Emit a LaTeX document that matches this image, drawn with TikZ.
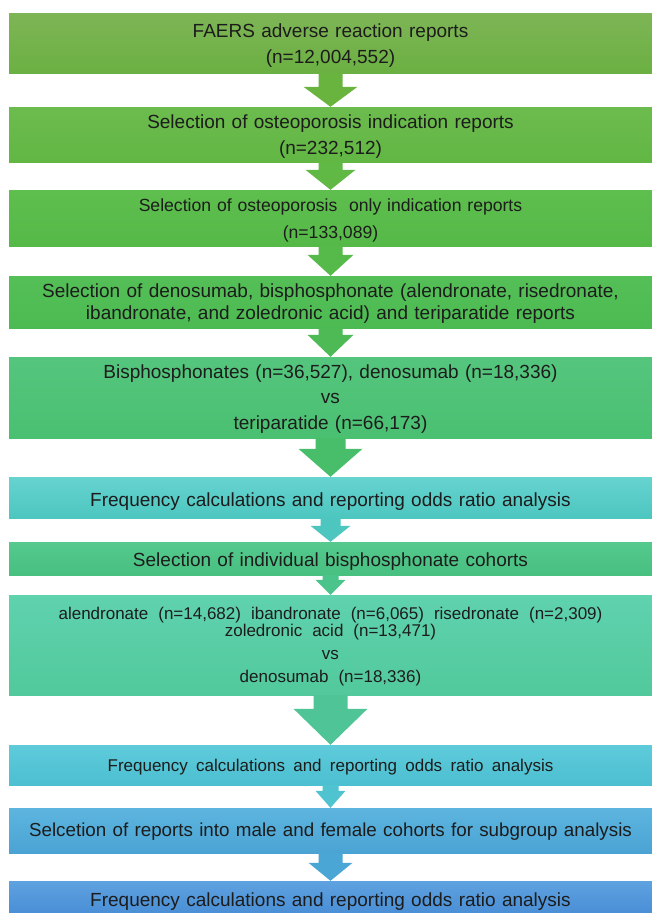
\documentclass[tikz,border=0pt]{standalone}
\usepackage{fontspec}
\setmainfont{Liberation Sans}
\usetikzlibrary{calc}
\definecolor{txt}{HTML}{1C1C1C}
\definecolor{b1t}{HTML}{7EB556}\definecolor{b1b}{HTML}{6BB042}
\definecolor{b2t}{HTML}{6CBB4E}\definecolor{b2b}{HTML}{62B743}
\definecolor{b3t}{HTML}{5EBE4E}\definecolor{b3b}{HTML}{55B948}
\definecolor{b4t}{HTML}{55BF57}\definecolor{b4b}{HTML}{4CBA52}
\definecolor{b5t}{HTML}{55C57E}\definecolor{b5b}{HTML}{4AC071}
\definecolor{b6t}{HTML}{66D3CF}\definecolor{b6b}{HTML}{4DC6C0}
\definecolor{b7t}{HTML}{55C98E}\definecolor{b7b}{HTML}{47C080}
\definecolor{b8t}{HTML}{5FD2AE}\definecolor{b8b}{HTML}{52C99C}
\definecolor{b9t}{HTML}{5ECBDA}\definecolor{b9b}{HTML}{4CBFD1}
\definecolor{b10t}{HTML}{5DB5DF}\definecolor{b10b}{HTML}{4AA3D3}
\definecolor{b11t}{HTML}{5EA2E0}\definecolor{b11b}{HTML}{4A8ED6}
\definecolor{a1c}{HTML}{69B43F}
\definecolor{a2c}{HTML}{60B944}
\definecolor{a3c}{HTML}{55BA49}
\definecolor{a4c}{HTML}{4DBA56}
\definecolor{a5c}{HTML}{48BD6A}
\definecolor{a6c}{HTML}{4EC6C0}
\definecolor{a7c}{HTML}{4BC48C}
\definecolor{a8c}{HTML}{4FC597}
\definecolor{a9c}{HTML}{4FC3CF}
\definecolor{a10c}{HTML}{4AA7D5}
% block arrow: from, to, shaft half width, head half width, head length, colour
\newcommand{\blockarrow}[6]{%
  \fill[#6] let \p1=(#1.south), \p2=(#2.north) in
    ($(\x1-#3,\y1)$) -- ($(\x1+#3,\y1)$) -- ($(\x1+#3,\y2+#5)$) -- ($(\x1+#4,\y2+#5)$)
    -- (\x1,\y2) -- ($(\x1-#4,\y2+#5)$) -- ($(\x1-#3,\y2+#5)$) -- cycle;}
\newcommand{\widesp}[1]{\spaceskip=#1\relax}
\newcommand{\tstrut}[1]{\rule{0pt}{#1}}
\begin{document}
\begin{tikzpicture}[x=1pt,y=-1pt,
  box/.style={rectangle, inner sep=0pt, minimum width=643pt, text width=643pt,
    align=center, text=txt, font=\fontsize{19}{27}\selectfont}]
\useasboundingbox (0,0) rectangle (652,913);
\fill[white] (0,0) rectangle (652,913);

\node[box, minimum height=60pt, top color=b1t, bottom color=b1b,
  font=\fontsize{19}{26.5}\selectfont] (b1) at (330.5,43)
  {\tstrut{19pt}FAERS adverse reaction reports\\(n=12,004,552)};
\node[box, minimum height=55pt, top color=b2t, bottom color=b2b,
  font=\fontsize{19}{26}\selectfont] (b2) at (330.5,134.5)
  {\tstrut{18pt}Selection of osteoporosis indication reports\\(n=232,512)};
\node[box, minimum height=56pt, top color=b3t, bottom color=b3b,
  font=\fontsize{17.6}{27}\selectfont] (b3) at (330.5,218)
  {\tstrut{17pt}Selection of osteoporosis\ \ only indication reports\\(n=133,089)};
\node[box, minimum height=52pt, top color=b4t, bottom color=b4b,
  font=\fontsize{19}{22}\selectfont] (b4) at (330.5,302)
  {\tstrut{16pt}Selection of denosumab, bisphosphonate (alendronate, risedronate,\\ibandronate, and zoledronic acid) and teriparatide reports};
\node[box, minimum height=81pt, top color=b5t, bottom color=b5b,
  font=\fontsize{19}{25.5}\selectfont] (b5) at (330.5,397.5)
  {\tstrut{16pt}Bisphosphonates (n=36,527), denosumab (n=18,336)\\vs\\teriparatide (n=66,173)};
\node[box, minimum height=41pt, top color=b6t, bottom color=b6b] (b6) at (330.5,497.5)
  {\tstrut{22pt}Frequency calculations and reporting odds ratio analysis};
\node[box, minimum height=33pt, top color=b7t, bottom color=b7b] (b7) at (330.5,558.5)
  {\tstrut{20pt}Selection of individual bisphosphonate cohorts};
\node[box, minimum height=100pt, top color=b8t, bottom color=b8b,
  font=\fontsize{17}{23}\selectfont] (b8) at (330.5,645)
  {\widesp{10pt}\tstrut{16pt}alendronate (n=14,682) ibandronate (n=6,065) risedronate (n=2,309)\\[-6pt]zoledronic acid (n=13,471)\\vs\\denosumab (n=18,336)};
\node[box, minimum height=40pt, top color=b9t, bottom color=b9b,
  font=\fontsize{17}{23}\selectfont] (b9) at (330.5,765)
  {\widesp{8.3pt}\tstrut{16pt}Frequency calculations and reporting odds ratio analysis};
\node[box, minimum height=45pt, top color=b10t, bottom color=b10b,
  font=\fontsize{18.8}{23}\selectfont] (b10) at (330.5,830.5)
  {\tstrut{16pt}Selcetion of reports into male and female cohorts for subgroup analysis};
\node[box, minimum height=32pt, top color=b11t, bottom color=b11b] (b11) at (330.5,897)
  {\tstrut{23pt}Frequency calculations and reporting odds ratio analysis};

\blockarrow{b1}{b2}{12pt}{27pt}{20pt}{a1c}
\blockarrow{b2}{b3}{12pt}{25pt}{20pt}{a2c}
\blockarrow{b3}{b4}{12pt}{23pt}{21pt}{a3c}
\blockarrow{b4}{b5}{12pt}{23pt}{22pt}{a4c}
\blockarrow{b5}{b6}{15pt}{32pt}{28pt}{a5c}
\blockarrow{b6}{b7}{10pt}{20pt}{16pt}{a6c}
\blockarrow{b7}{b8}{8pt}{15pt}{15pt}{a7c}
\blockarrow{b8}{b9}{17pt}{37pt}{36pt}{a8c}
\blockarrow{b9}{b10}{8pt}{15pt}{17pt}{a9c}
\blockarrow{b10}{b11}{12pt}{22pt}{18pt}{a10c}
\end{tikzpicture}
\end{document}
